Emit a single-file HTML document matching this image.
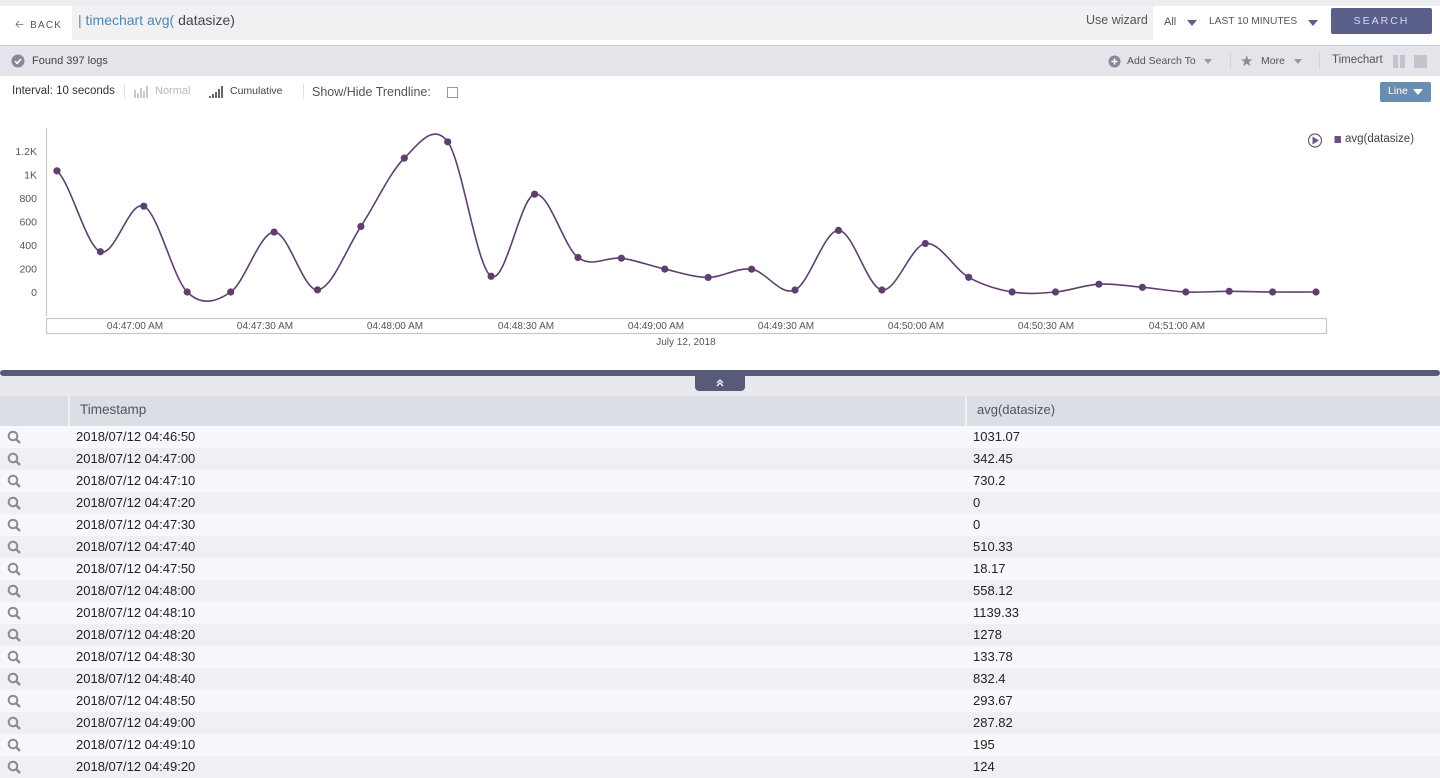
<!DOCTYPE html>
<html><head><meta charset="utf-8">
<style>
*{margin:0;padding:0;box-sizing:border-box}
html,body{width:1440px;height:775px;overflow:hidden;background:#fff;font-family:"Liberation Sans",sans-serif;color:#444}
.abs{position:absolute}
.t{position:absolute;white-space:nowrap}
</style></head><body>
<!-- top bar -->
<div class="abs" style="left:0;top:0;width:1440px;height:46px;background:#fff"></div>
<div class="abs" style="left:0;top:0;width:1440px;height:6px;background:#ecedf1"></div>
<div class="abs" style="left:72px;top:6px;width:1081px;height:34px;background:#f1f1f4"></div>
<div class="abs" style="left:0;top:45px;width:1440px;height:1px;background:#c6c8d1"></div>
<div class="t" style="left:15px;top:16px;font-size:10px;color:#555;letter-spacing:1.2px"><span style="font-size:11px;margin-right:5px">&#129120;</span>BACK</div>
<div class="t" style="left:78px;top:12px;font-size:14px;color:#4f86b0">| timechart avg(<span style="color:#3e4552"> datasize)</span></div>
<div class="t" style="left:1086px;top:13px;font-size:12.5px;color:#555">Use wizard</div>
<div class="t" style="left:1164px;top:16px;font-size:11px;color:#555">All</div>
<svg class="abs" style="left:1187px;top:20px" width="10" height="6"><path d="M0 0H10L5 6Z" fill="#5a5f8c"/></svg>
<div class="t" style="left:1209px;top:16px;font-size:10.2px;color:#555">LAST 10 MINUTES</div>
<svg class="abs" style="left:1308px;top:20px" width="10" height="6"><path d="M0 0H10L5 6Z" fill="#5a5f8c"/></svg>
<div class="abs" style="left:1331px;top:8px;width:101px;height:26px;background:#5a5f8c;border-radius:2px;color:#d8dbea;font-size:10.5px;letter-spacing:2px;text-align:center;line-height:26px">SEARCH</div>
<!-- gray band -->
<div class="abs" style="left:0;top:46px;width:1440px;height:30px;background:#e4e5eb"></div>
<svg class="abs" style="left:11px;top:54px" width="14" height="14"><circle cx="7" cy="7" r="6.5" fill="#8b8698"/><path d="M4 7.2L6.2 9.3 10 5" stroke="#fff" stroke-width="1.6" fill="none"/></svg>
<div class="t" style="left:32px;top:55px;font-size:11px;color:#444">Found 397 logs</div>
<svg class="abs" style="left:1108px;top:55px" width="13" height="13"><circle cx="6.5" cy="6.5" r="6" fill="#8b8698"/><path d="M6.5 3.5V9.5M3.5 6.5H9.5" stroke="#fff" stroke-width="1.6"/></svg>
<div class="t" style="left:1127px;top:55px;font-size:10.5px;color:#555">Add Search To</div>
<svg class="abs" style="left:1204px;top:59px" width="8" height="5"><path d="M0 0H8L4 5Z" fill="#999"/></svg>
<div class="abs" style="left:1230px;top:53px;width:1px;height:16px;background:#d3d4da"></div>
<div class="t" style="left:1240px;top:52px;font-size:15px;color:#8b8698">&#9733;</div>
<div class="t" style="left:1261px;top:55px;font-size:10.5px;color:#555">More</div>
<svg class="abs" style="left:1294px;top:59px" width="8" height="5"><path d="M0 0H8L4 5Z" fill="#999"/></svg>
<div class="abs" style="left:1319px;top:53px;width:1px;height:16px;background:#d3d4da"></div>
<div class="t" style="left:1332px;top:54px;font-size:11.5px;color:#555">Timechart</div>
<div class="abs" style="left:1393px;top:55px;width:5px;height:13px;background:#c4c4cc"></div>
<div class="abs" style="left:1400px;top:55px;width:5px;height:13px;background:#c4c4cc"></div>
<div class="abs" style="left:1414px;top:55px;width:13px;height:13px;background:#c4c4cc"></div>
<!-- options row -->
<div class="t" style="left:12px;top:85px;font-size:11.5px;color:#333">Interval: 10 seconds</div>
<div class="abs" style="left:124px;top:84px;width:1px;height:15px;background:#e0e0e5"></div>
<svg class="abs" style="left:134px;top:86px" width="16" height="12"><g fill="#c8c8d0"><rect x="0" y="4" width="2" height="8"/><rect x="3" y="7" width="2" height="5"/><rect x="6" y="2" width="2" height="10"/><rect x="9" y="5" width="2" height="7"/><rect x="12" y="0" width="2" height="12"/></g></svg>
<div class="t" style="left:155px;top:85px;font-size:11px;color:#b8b8c0">Normal</div>
<svg class="abs" style="left:209px;top:86px" width="16" height="12"><g fill="#666"><rect x="0" y="10" width="2" height="2"/><rect x="3" y="8" width="2" height="4"/><rect x="6" y="6" width="2" height="6"/><rect x="9" y="3" width="2" height="9"/><rect x="12" y="0" width="2" height="12"/></g></svg>
<div class="t" style="left:230px;top:85px;font-size:10.5px;color:#444">Cumulative</div>
<div class="abs" style="left:303px;top:84px;width:1px;height:15px;background:#e0e0e5"></div>
<div class="t" style="left:312px;top:85px;font-size:12.5px;color:#555">Show/Hide Trendline:</div>
<div class="abs" style="left:447px;top:87px;width:11px;height:11px;border:1px solid #999;background:#fff"></div>
<div class="abs" style="left:1380px;top:82px;width:51px;height:20px;background:#6a8eb2;border-radius:2px"></div>
<div class="t" style="left:1388px;top:85px;font-size:10.5px;color:#fff">Line</div>
<svg class="abs" style="left:1413px;top:89px" width="10" height="6"><path d="M0 0H10L5 6Z" fill="#fff"/></svg>

<!-- chart -->
<svg class="abs" style="left:0;top:0" width="1440" height="370" font-family="Liberation Sans, sans-serif">
<line x1="46.5" y1="128" x2="46.5" y2="316" stroke="#c5c6d2" stroke-width="1.2"/>
<rect x="46.5" y="318.5" width="1280" height="15" fill="#fff" stroke="#c5c6d2" stroke-width="1.2"/>
<g font-size="10.5" fill="#555" text-anchor="end">
<text x="37" y="155">1.2K</text><text x="37" y="178.5">1K</text><text x="37" y="202">800</text><text x="37" y="225.5">600</text><text x="37" y="249">400</text><text x="37" y="272.5">200</text><text x="37" y="296">0</text>
</g>
<g font-size="10" fill="#555" text-anchor="middle">
<text x="135" y="329">04:47:00 AM</text><text x="265" y="329">04:47:30 AM</text><text x="395" y="329">04:48:00 AM</text><text x="526" y="329">04:48:30 AM</text><text x="656" y="329">04:49:00 AM</text><text x="786" y="329">04:49:30 AM</text><text x="916" y="329">04:50:00 AM</text><text x="1046" y="329">04:50:30 AM</text><text x="1177" y="329">04:51:00 AM</text>
<text x="686" y="345">July 12, 2018</text>
</g>
<path fill="none" stroke="#5e3f6d" stroke-width="1.6" d="M57,170.85 C71.47,184.34 85.93,245.87 100.4,251.76 C114.87,257.65 129.33,199.49 143.8,206.2 C158.27,212.91 172.73,277.7 187.2,292 C201.67,306.3 216.23,301.99 230.7,292 C245.17,282.01 259.63,232.4 274.1,232.04 C288.57,231.68 303.03,290.81 317.5,289.87 C331.97,288.93 346.43,248.38 360.9,226.42 C375.37,204.46 389.83,172.23 404.3,158.13 C418.77,144.03 433.23,122.14 447.7,141.83 C462.17,161.52 476.63,267.55 491.1,276.28 C505.57,285.01 520.13,197.32 534.6,194.19 C549.07,191.06 563.53,246.82 578,257.49 C592.47,268.16 606.93,256.25 621.4,258.18 C635.87,260.11 650.33,265.88 664.8,269.09 C679.27,272.3 693.73,277.41 708.2,277.43 C722.67,277.45 737.13,267.1 751.6,269.2 C766.07,271.3 780.53,296.47 795,290 C809.47,283.53 824.03,230.4 838.5,230.4 C852.97,230.4 867.43,287.82 881.9,290 C896.37,292.18 910.83,245.62 925.3,243.5 C939.77,241.38 954.23,269.22 968.7,277.3 C983.17,285.38 997.63,289.55 1012.1,292 C1026.57,294.45 1041.03,293.3 1055.5,292 C1069.97,290.7 1084.43,284.98 1098.9,284.2 C1113.37,283.42 1127.93,286 1142.4,287.3 C1156.87,288.6 1171.33,291.33 1185.8,292 C1200.27,292.67 1214.73,291.3 1229.2,291.3 C1243.67,291.3 1258.13,291.88 1272.6,292 C1287.07,292.12 1301.53,292 1316,292"/>
<g fill="#5e3f6d">
<circle cx="57" cy="170.85" r="3.6"/><circle cx="100.4" cy="251.76" r="3.6"/><circle cx="143.8" cy="206.2" r="3.6"/><circle cx="187.2" cy="292" r="3.6"/><circle cx="230.7" cy="292" r="3.6"/><circle cx="274.1" cy="232.04" r="3.6"/><circle cx="317.5" cy="289.87" r="3.6"/><circle cx="360.9" cy="226.42" r="3.6"/><circle cx="404.3" cy="158.13" r="3.6"/><circle cx="447.7" cy="141.83" r="3.6"/><circle cx="491.1" cy="276.28" r="3.6"/><circle cx="534.6" cy="194.19" r="3.6"/><circle cx="578" cy="257.49" r="3.6"/><circle cx="621.4" cy="258.18" r="3.6"/><circle cx="664.8" cy="269.09" r="3.6"/><circle cx="708.2" cy="277.43" r="3.6"/><circle cx="751.6" cy="269.2" r="3.6"/><circle cx="795" cy="290" r="3.6"/><circle cx="838.5" cy="230.4" r="3.6"/><circle cx="881.9" cy="290" r="3.6"/><circle cx="925.3" cy="243.5" r="3.6"/><circle cx="968.7" cy="277.3" r="3.6"/><circle cx="1012.1" cy="292" r="3.6"/><circle cx="1055.5" cy="292" r="3.6"/><circle cx="1098.9" cy="284.2" r="3.6"/><circle cx="1142.4" cy="287.3" r="3.6"/><circle cx="1185.8" cy="292" r="3.6"/><circle cx="1229.2" cy="291.3" r="3.6"/><circle cx="1272.6" cy="292" r="3.6"/><circle cx="1316" cy="292" r="3.6"/>
</g>
<circle cx="1315" cy="140.5" r="6.5" fill="#fff" stroke="#6c5a7a" stroke-width="1.2"/>
<path d="M1312.5 136.5L1319 140.5 1312.5 144.5Z" fill="#6c5a7a"/>
<rect x="1334.5" y="136" width="6.5" height="7" fill="#6e4f7e"/>
<text x="1345" y="142" font-size="11.5" fill="#444">avg(datasize)</text>
</svg>

<!-- divider -->
<div class="abs" style="left:0;top:370px;width:1440px;height:6px;background:#575b79;border-radius:3px"></div>
<div class="abs" style="left:0;top:376px;width:1440px;height:20px;background:#e9e9ed"></div>
<div class="abs" style="left:695px;top:375px;width:50px;height:16px;background:#575b79;border-radius:0 0 4px 4px"></div>
<svg class="abs" style="left:715px;top:378px" width="10" height="10"><path d="M2 5L5 2 8 5M2 8L5 5 8 8" stroke="#fff" stroke-width="1.3" fill="none"/></svg>

<!-- table -->
<div class="abs" style="left:0;top:396px;width:1440px;height:30px;background:#dcdee6"></div>
<div class="abs" style="left:68px;top:396px;width:2px;height:30px;background:#eef0f4"></div>
<div class="abs" style="left:965px;top:396px;width:2px;height:30px;background:#eef0f4"></div>
<div class="t" style="left:80px;top:402px;font-size:13.5px;color:#555">Timestamp</div>
<div class="t" style="left:977px;top:402px;font-size:13px;color:#555">avg(datasize)</div>

<div class="abs" style="left:0;top:426px;width:1440px">
<style>
.r{position:relative;height:22px;width:1440px;font-size:13px;color:#222}
.r:nth-child(odd){background:#f0f0f4}
.r:nth-child(even){background:#f8f8fc}
.r .a{position:absolute;left:76px;top:3px}
.r .b{position:absolute;left:973px;top:3px}
.r svg{position:absolute;left:7px;top:4px}
</style>
<div class="r"><svg width="15" height="15"><circle cx="6" cy="6" r="4.3" stroke="#8d889a" stroke-width="2" fill="none"/><path d="M9 9L13 13" stroke="#8d889a" stroke-width="2.4"/></svg><span class="a">2018/07/12 04:46:50</span><span class="b">1031.07</span></div>
<div class="r"><svg width="15" height="15"><circle cx="6" cy="6" r="4.3" stroke="#8d889a" stroke-width="2" fill="none"/><path d="M9 9L13 13" stroke="#8d889a" stroke-width="2.4"/></svg><span class="a">2018/07/12 04:47:00</span><span class="b">342.45</span></div>
<div class="r"><svg width="15" height="15"><circle cx="6" cy="6" r="4.3" stroke="#8d889a" stroke-width="2" fill="none"/><path d="M9 9L13 13" stroke="#8d889a" stroke-width="2.4"/></svg><span class="a">2018/07/12 04:47:10</span><span class="b">730.2</span></div>
<div class="r"><svg width="15" height="15"><circle cx="6" cy="6" r="4.3" stroke="#8d889a" stroke-width="2" fill="none"/><path d="M9 9L13 13" stroke="#8d889a" stroke-width="2.4"/></svg><span class="a">2018/07/12 04:47:20</span><span class="b">0</span></div>
<div class="r"><svg width="15" height="15"><circle cx="6" cy="6" r="4.3" stroke="#8d889a" stroke-width="2" fill="none"/><path d="M9 9L13 13" stroke="#8d889a" stroke-width="2.4"/></svg><span class="a">2018/07/12 04:47:30</span><span class="b">0</span></div>
<div class="r"><svg width="15" height="15"><circle cx="6" cy="6" r="4.3" stroke="#8d889a" stroke-width="2" fill="none"/><path d="M9 9L13 13" stroke="#8d889a" stroke-width="2.4"/></svg><span class="a">2018/07/12 04:47:40</span><span class="b">510.33</span></div>
<div class="r"><svg width="15" height="15"><circle cx="6" cy="6" r="4.3" stroke="#8d889a" stroke-width="2" fill="none"/><path d="M9 9L13 13" stroke="#8d889a" stroke-width="2.4"/></svg><span class="a">2018/07/12 04:47:50</span><span class="b">18.17</span></div>
<div class="r"><svg width="15" height="15"><circle cx="6" cy="6" r="4.3" stroke="#8d889a" stroke-width="2" fill="none"/><path d="M9 9L13 13" stroke="#8d889a" stroke-width="2.4"/></svg><span class="a">2018/07/12 04:48:00</span><span class="b">558.12</span></div>
<div class="r"><svg width="15" height="15"><circle cx="6" cy="6" r="4.3" stroke="#8d889a" stroke-width="2" fill="none"/><path d="M9 9L13 13" stroke="#8d889a" stroke-width="2.4"/></svg><span class="a">2018/07/12 04:48:10</span><span class="b">1139.33</span></div>
<div class="r"><svg width="15" height="15"><circle cx="6" cy="6" r="4.3" stroke="#8d889a" stroke-width="2" fill="none"/><path d="M9 9L13 13" stroke="#8d889a" stroke-width="2.4"/></svg><span class="a">2018/07/12 04:48:20</span><span class="b">1278</span></div>
<div class="r"><svg width="15" height="15"><circle cx="6" cy="6" r="4.3" stroke="#8d889a" stroke-width="2" fill="none"/><path d="M9 9L13 13" stroke="#8d889a" stroke-width="2.4"/></svg><span class="a">2018/07/12 04:48:30</span><span class="b">133.78</span></div>
<div class="r"><svg width="15" height="15"><circle cx="6" cy="6" r="4.3" stroke="#8d889a" stroke-width="2" fill="none"/><path d="M9 9L13 13" stroke="#8d889a" stroke-width="2.4"/></svg><span class="a">2018/07/12 04:48:40</span><span class="b">832.4</span></div>
<div class="r"><svg width="15" height="15"><circle cx="6" cy="6" r="4.3" stroke="#8d889a" stroke-width="2" fill="none"/><path d="M9 9L13 13" stroke="#8d889a" stroke-width="2.4"/></svg><span class="a">2018/07/12 04:48:50</span><span class="b">293.67</span></div>
<div class="r"><svg width="15" height="15"><circle cx="6" cy="6" r="4.3" stroke="#8d889a" stroke-width="2" fill="none"/><path d="M9 9L13 13" stroke="#8d889a" stroke-width="2.4"/></svg><span class="a">2018/07/12 04:49:00</span><span class="b">287.82</span></div>
<div class="r"><svg width="15" height="15"><circle cx="6" cy="6" r="4.3" stroke="#8d889a" stroke-width="2" fill="none"/><path d="M9 9L13 13" stroke="#8d889a" stroke-width="2.4"/></svg><span class="a">2018/07/12 04:49:10</span><span class="b">195</span></div>
<div class="r"><svg width="15" height="15"><circle cx="6" cy="6" r="4.3" stroke="#8d889a" stroke-width="2" fill="none"/><path d="M9 9L13 13" stroke="#8d889a" stroke-width="2.4"/></svg><span class="a">2018/07/12 04:49:20</span><span class="b">124</span></div>
</div>
</body></html>
